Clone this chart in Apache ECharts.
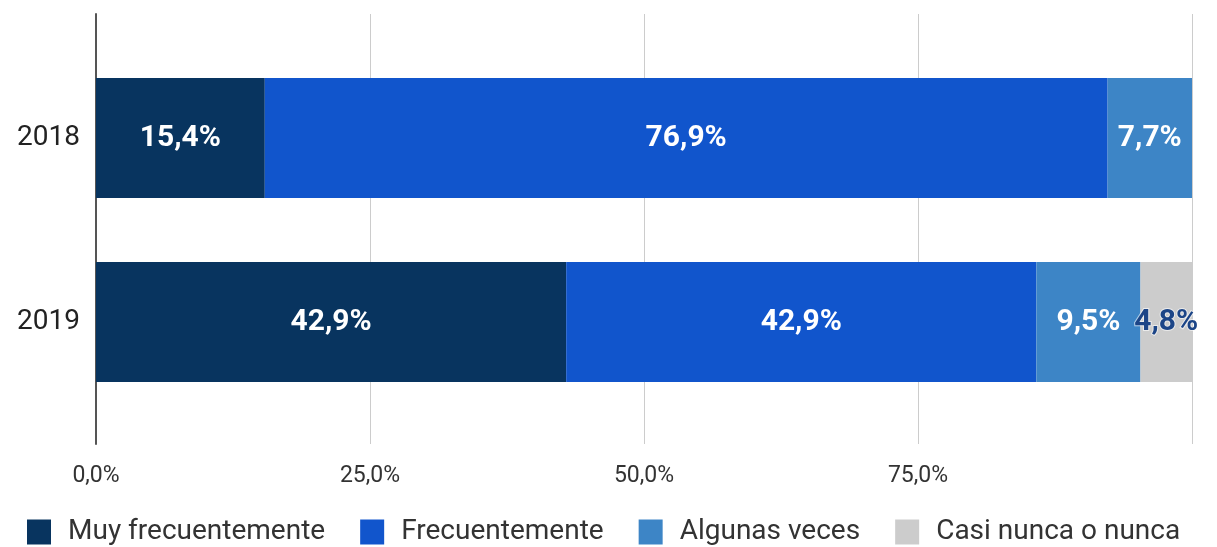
<!DOCTYPE html>
<html>
<head>
<meta charset="utf-8">
<script src="https://cdn.jsdelivr.net/npm/echarts@6/dist/echarts.min.js"></script>
<style>
  html, body { margin: 0; padding: 0; background: #fff; }
  #chart { width: 1217px; height: 547px; }
</style>
</head>
<body>
<div id="chart"></div>
<script>
// data
const years = ['2019', '2018']
const seriesNames = ['Muy frecuentemente', 'Frecuentemente', 'Algunas veces', 'Casi nunca o nunca']
const muyFrecuente = [42.9, 15.4]
const frecuente = [42.9, 76.9]
const algunas = [9.5, 7.7]
const casiNunca = [4.8, 0]
const xTicks = [0, 25, 50, 75, 100]

const colors = ['#08345f', '#1155cc', '#3d85c6', '#cccccc']
const fmt = v => v.toFixed(1).replace('.', ',') + '%'

function makeSeries (name, data, color, labelColor) {
  return {
    name: name,
    type: 'bar',
    stack: 'total',
    xAxisIndex: 1,
    yAxisIndex: 1,
    barWidth: 120,
    data: data,
    itemStyle: { color: color },
    label: {
      show: true,
      position: 'inside',
      fontFamily: 'Roboto',
      fontWeight: 'bold',
      fontSize: 30,
      color: labelColor,
      textBorderColor: labelColor === '#fff' ? 'transparent' : 'rgba(255,255,255,0.6)',
      textBorderWidth: labelColor === '#fff' ? 0 : 2,
      formatter: p => p.value > 0 ? fmt(p.value) : ''
    }
  }
}

let option = {
  animation: false,
  grid: [
    { left: 96, right: 25, top: 14, bottom: 103 },
    { left: 96, right: 25, top: 46, bottom: 133 }
  ],
  legend: {
    top: 513,
    left: 22,
    itemWidth: 24,
    itemHeight: 25,
    itemGap: 35,
    icon: 'rect',
    textStyle: { fontFamily: 'Roboto', fontSize: 28, color: '#333', padding: [0, 0, 0, 12] },
    data: seriesNames
  },
  xAxis: [
    {
      gridIndex: 0,
      type: 'value',
      min: xTicks[0],
      max: xTicks[xTicks.length - 1],
      interval: 25,
      axisLine: { show: false },
      axisTick: { show: false },
      splitLine: { lineStyle: { color: '#cccccc', width: 1 } },
      axisLabel: {
        margin: 21,
        fontFamily: 'Roboto',
        fontSize: 23,
        color: '#333',
        formatter: v => v === 100 ? '' : fmt(v)
      }
    },
    {
      gridIndex: 1,
      type: 'value',
      min: 0,
      max: 100,
      show: false
    }
  ],
  yAxis: [
    {
      gridIndex: 0,
      type: 'value',
      axisLine: { show: true, lineStyle: { color: '#555', width: 2 } },
      axisTick: { show: false },
      axisLabel: { show: false },
      splitLine: { show: false }
    },
    {
      gridIndex: 1,
      type: 'category',
      data: years,
      axisLine: { show: false },
      axisTick: { show: false },
      axisLabel: {
        margin: 16,
        fontFamily: 'Roboto',
        fontSize: 28,
        color: '#222'
      }
    }
  ],
  series: [
    makeSeries(seriesNames[0], muyFrecuente, colors[0], '#fff'),
    makeSeries(seriesNames[1], frecuente, colors[1], '#fff'),
    makeSeries(seriesNames[2], algunas, colors[2], '#fff'),
    makeSeries(seriesNames[3], casiNunca, colors[3], '#1c4587')
  ]
}

let mychart = echarts.init(document.getElementById('chart'))
mychart.setOption(option)
</script>
</body>
</html>
